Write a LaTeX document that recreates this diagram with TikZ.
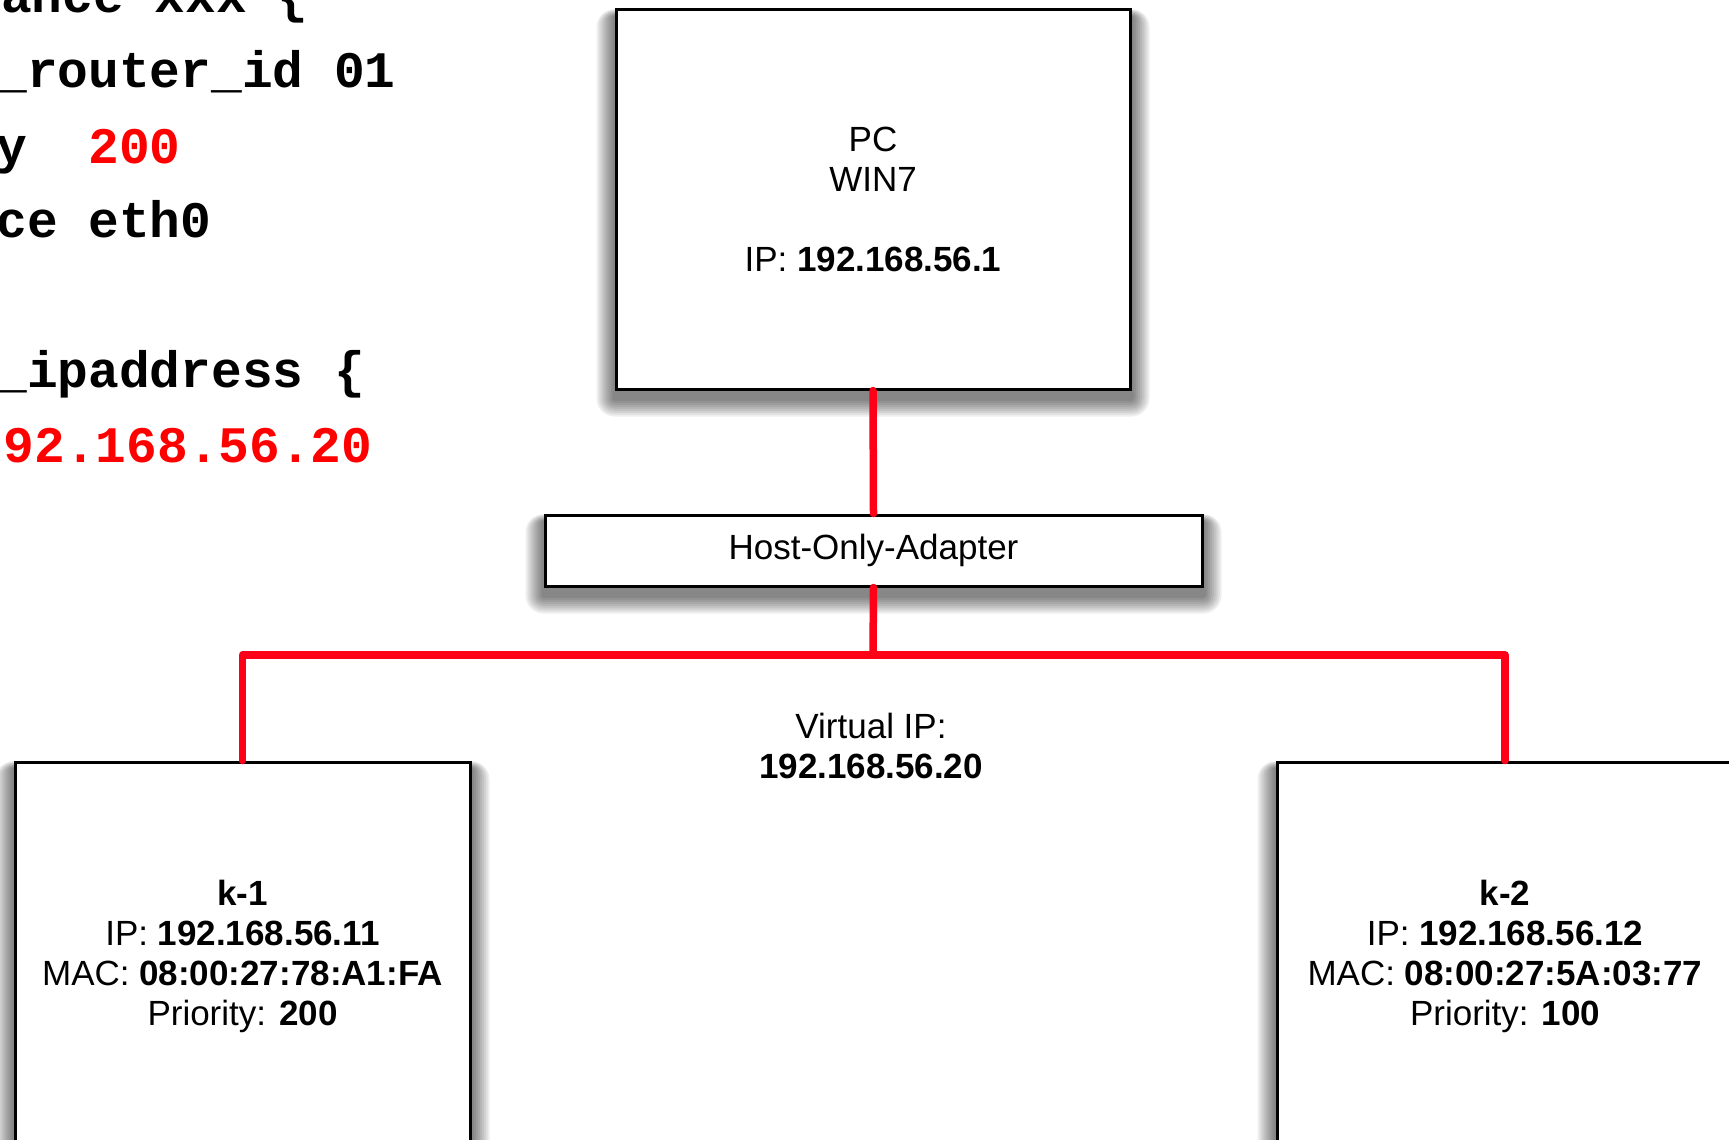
\documentclass[tikz,border=0pt]{standalone}
\usepackage{fontspec}
\setmainfont{Liberation Sans}
\newfontfamily\codefont{Liberation Mono}
\definecolor{busred}{RGB}{255,0,25}
\definecolor{codered}{RGB}{255,0,0}
\pgfdeclarelayer{shadowlayer}
\pgfsetlayers{shadowlayer,main}
\begin{document}
\begin{tikzpicture}[x=1pt,y=-1pt,
  box/.style={draw=black, line width=3pt, fill=white,
    align=center, font=\fontsize{35}{40}\selectfont, inner sep=0pt},
  shadowstep/.style={fill=black, opacity=0.065},
  bus/.style={draw=busred, line width=7.5pt, line cap=round, line join=round},
  code/.style={font=\codefont\bfseries\fontsize{51.2}{60}\selectfont, anchor=base west, inner sep=0pt},
  lbl/.style={align=center, font=\fontsize{35}{40}\selectfont, inner sep=0pt}]
\useasboundingbox (0,0) rectangle (1729,1140);
\clip (0,0) rectangle (1729,1140);

% code fragment
\node[code] (c1) at (1,13) {ance xxx \{};
\node[code] (c2) at (-3.9,88) {\_router\_id 01};
\node[code] (c3) at (-3.9,163) {y\ \ \textcolor{codered}{200}};
\node[code] (c4) at (-3.9,237) {ce eth0};
\node[code] (c5) at (-3.9,387) {\_ipaddress \{};
\node[code, text=codered] (c6) at (3.5,462) {92.168.56.20};

% boxes
\node[box, minimum width=514pt, minimum height=379pt] (pc) at (873,199.5)
  {PC\\WIN7\\[40pt]IP: \textbf{192.168.56.1}};
\node[box, minimum width=657pt, minimum height=71pt] (adapter) at (873.5,550.5)
  {Host-Only-Adapter};
\node[box, minimum width=455pt, minimum height=388pt] (k1) at (242.5,956)
  {\textbf{k-1}\\IP: \textbf{192.168.56.11}\\MAC: \textbf{08:00:27:78:A1:FA}\\Priority: \textbf{200}};
\node[box, minimum width=456pt, minimum height=388pt] (k2) at (1505,956)
  {\textbf{k-2}\\IP: \textbf{192.168.56.12}\\MAC: \textbf{08:00:27:5A:03:77}\\Priority: \textbf{100}};

\node[lbl] (vip) at (871,746) {Virtual IP:\\\textbf{192.168.56.20}};

% soft shadows behind the boxes
\begin{pgfonlayer}{shadowlayer}
  \fill[white] (0,0) rectangle (1729,1140);
  \foreach \n in {pc,adapter,k1,k2}{
    \foreach \s in {2,4,...,18}{
      \fill[shadowstep, rounded corners=\s pt]
        ([xshift=-\s pt, yshift=-8pt+0.4*\s pt]\n.north west) rectangle
        ([xshift=\s pt, yshift=-8pt-\s pt]\n.south east);
    }
  }
\end{pgfonlayer}

% connectors
\coordinate (j) at (873,655);
\draw[bus] (pc.south) -- (adapter.north);
\draw[bus] (adapter.south) -- (j);
\draw[bus] (k1.north) |- (j) -| (k2.north);
\end{tikzpicture}
\end{document}
